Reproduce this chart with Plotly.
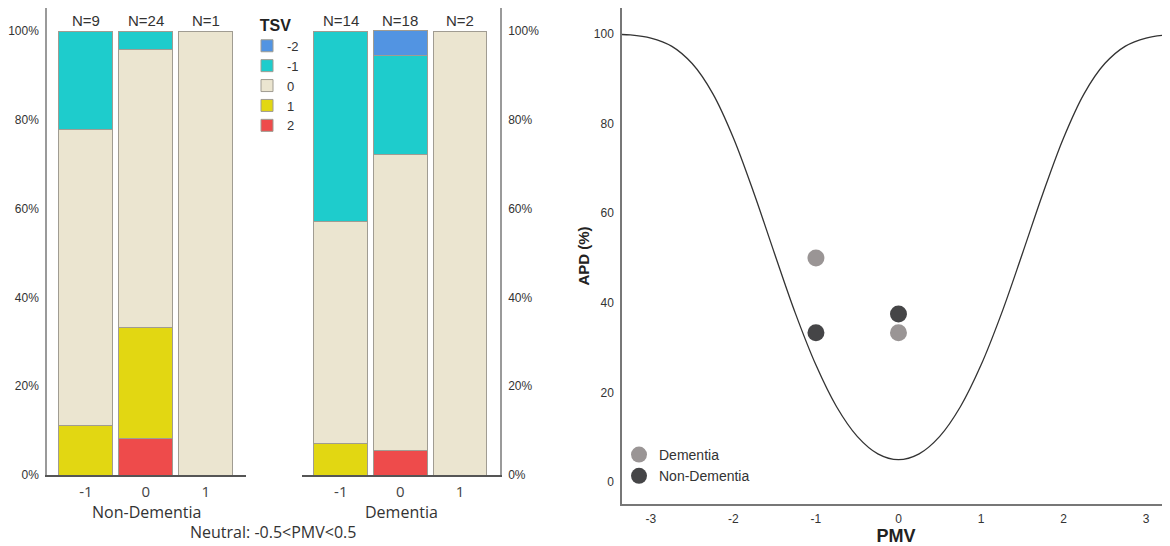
import plotly.graph_objects as go

# ---------------- data ----------------
pmv_cats = ["-1", "0", "1"]
tsv_levels = ["2", "1", "0", "-1", "-2"]  # stacking order bottom -> top
tsv_colors = {"-2": "#5294e2", "-1": "#1ecccc", "0": "#ebe5d0", "1": "#e2d712", "2": "#ee4b4b"}

# percentages of TSV votes within each PMV category
nondem_tsv = {
    "2": [None, 8.3, None],
    "1": [11.1, 25.0, None],
    "0": [66.7, 62.5, 100.0],
    "-1": [22.2, 4.2, None],
    "-2": [None, None, None],
}
dem_tsv = {
    "2": [None, 5.6, None],
    "1": [7.1, None, None],
    "0": [50.0, 66.7, 100.0],
    "-1": [42.9, 22.2, None],
    "-2": [None, 5.6, None],
}
nondem_n = [9, 24, 1]
dem_n = [14, 18, 2]

pct_ticks = [0, 20, 40, 60, 80, 100]
pct_labels = ["0%", "20%", "40%", "60%", "80%", "100%"]

# PPD-type curve
curve_pmv = [-3.4, -3.25, -3.0, -2.75, -2.5, -2.25, -2.0, -1.75, -1.5, -1.25, -1.0, -0.75, -0.5, -0.25, 0.0,
             0.25, 0.5, 0.75, 1.0, 1.25, 1.5, 1.75, 2.0, 2.25, 2.5, 2.75, 3.0, 3.25, 3.4]
curve_apd = [99.9, 99.8, 99.1, 97.3, 93.4, 86.7, 76.8, 64.4, 50.9, 37.7, 26.1, 16.8, 10.2, 6.3, 5.0,
             6.3, 10.2, 16.8, 26.1, 37.7, 50.9, 64.4, 76.8, 86.7, 93.4, 97.3, 99.1, 99.8, 99.9]

dem_pmv = [-1, 0]
dem_apd = [50.0, 33.3]
nondem_pmv = [-1, 0]
nondem_apd = [33.3, 37.5]

pmv_ticks = [-3, -2, -1, 0, 1, 2, 3]
pmv_labels = ["-3", "-2", "-1", "0", "1", "2", "3"]
apd_ticks = [0, 20, 40, 60, 80, 100]

# ---------------- figure ----------------
# the page body has an 8px margin, so the figure spans page pixels 8..1170 / 8..546
OFF = 8
W, H = 1170 - OFF, 546 - OFF
fig = go.Figure()

bar_line = dict(color="#a09c92", width=1)
for lvl in tsv_levels:
    fig.add_trace(go.Bar(x=pmv_cats, y=nondem_tsv[lvl], name=lvl, marker=dict(color=tsv_colors[lvl], line=bar_line),
                         xaxis="x", yaxis="y", legendgroup=lvl, showlegend=True, legend="legend"))
for lvl in tsv_levels:
    fig.add_trace(go.Bar(x=pmv_cats, y=dem_tsv[lvl], name=lvl, marker=dict(color=tsv_colors[lvl], line=bar_line),
                         xaxis="x2", yaxis="y2", legendgroup=lvl, showlegend=False, legend="legend"))

fig.add_trace(go.Scatter(x=curve_pmv, y=curve_apd, mode="lines", line=dict(color="#333333", width=1.3, shape="spline"),
                         xaxis="x3", yaxis="y3", showlegend=False, hoverinfo="skip"))
fig.add_trace(go.Scatter(x=dem_pmv, y=dem_apd, mode="markers", name="Dementia",
                         marker=dict(size=17, color="#9a9595"), xaxis="x3", yaxis="y3", legend="legend2"))
fig.add_trace(go.Scatter(x=nondem_pmv, y=nondem_apd, mode="markers", name="Non-Dementia",
                         marker=dict(size=17, color="#454547"), xaxis="x3", yaxis="y3", legend="legend2"))

def px_x(p):
    return min(1.0, max(0.0, (p - OFF) / W))

def px_y(p):
    return min(1.0, max(0.0, (H - (p - OFF)) / H))

arial = "Liberation Sans, Arial, sans-serif"
calib = "Open Sans, Noto Sans, sans-serif"

left_y = dict(domain=[px_y(475), px_y(8)], range=[0, 105.2], tickvals=pct_ticks, ticktext=pct_labels,
              showline=True, linecolor="#9a9a9a", linewidth=1.5, showgrid=False, zeroline=False, ticks="",
              tickfont=dict(family=arial, size=12, color="#333"), ticklabelstandoff=4, fixedrange=True,
              automargin=False)
cat_x = dict(type="category", range=[-0.65, 2.67], showline=True, linecolor="#555", linewidth=1.5,
             showgrid=False, zeroline=False, ticks="", tickfont=dict(family=calib, size=15, color="#444"),
             ticklabelstandoff=2, automargin=False)

annotations = []
for i, c in enumerate(pmv_cats):
    annotations.append(dict(x=i, y=100, xref="x", yref="y", text=f"N={nondem_n[i]}", showarrow=False,
                            yanchor="bottom", font=dict(family=arial, size=15, color="#333")))
    annotations.append(dict(x=i, y=100, xref="x2", yref="y2", text=f"N={dem_n[i]}", showarrow=False,
                            yanchor="bottom", font=dict(family=arial, size=15, color="#333")))
annotations += [
    dict(x=0.5, y=px_y(512), xref="x domain", yref="paper", text="Non-Dementia", showarrow=False,
         xanchor="center", yanchor="middle", borderpad=0, font=dict(family=calib, size=16, color="#333")),
    dict(x=0.5, y=px_y(512), xref="x2 domain", yref="paper", text="Dementia", showarrow=False,
         xanchor="center", yanchor="middle", borderpad=0, font=dict(family=calib, size=16, color="#333")),
    dict(x=px_x(273), y=px_y(532), xref="paper", yref="paper", text="Neutral: -0.5<PMV<0.5", showarrow=False,
         xanchor="center", yanchor="middle", borderpad=0, font=dict(family=calib, size=16, color="#333")),
]

fig.update_layout(
    width=W, height=H, margin=dict(l=0, r=0, t=0, b=0, autoexpand=False),
    paper_bgcolor="white", plot_bgcolor="white",
    barmode="stack", bargap=0.1,
    xaxis=dict(cat_x, domain=[px_x(47), px_x(246)], anchor="y"),
    yaxis=dict(left_y, anchor="x"),
    xaxis2=dict(cat_x, domain=[px_x(302), px_x(500)], anchor="y2"),
    yaxis2=dict(left_y, anchor="x2", side="right"),
    xaxis3=dict(domain=[px_x(622), 1.0], anchor="y3", range=[-3.35, 3.29], tickvals=pmv_ticks, ticktext=pmv_labels,
                showline=True, linecolor="#777", linewidth=1.5, showgrid=False, zeroline=False, ticks="",
                tickfont=dict(family=arial, size=12, color="#333"), ticklabelstandoff=3, automargin=False,
                title=dict(text="<b>PMV</b>", font=dict(family=arial, size=18, color="#222"), standoff=0)),
    yaxis3=dict(domain=[px_y(504), px_y(8)], anchor="x3", range=[-4.9, 105.8], tickvals=apd_ticks,
                showline=True, linecolor="#777", linewidth=1.5, showgrid=False, zeroline=False, ticks="",
                tickfont=dict(family=arial, size=12, color="#333"), ticklabelstandoff=4, automargin=False,
                title=dict(text="<b>APD (%)</b>", font=dict(family=arial, size=15, color="#222"), standoff=1)),
    legend=dict(title=dict(text="<b>TSV</b>", font=dict(family=arial, size=16, color="#222"), side="top center"),
                font=dict(family=arial, size=13, color="#333"), traceorder="reversed",
                x=px_x(247), y=px_y(10), xanchor="left", yanchor="top", bgcolor="rgba(0,0,0,0)",
                tracegroupgap=0, itemclick=False),
    legend2=dict(font=dict(family=arial, size=14, color="#333"),
                 x=px_x(619), y=px_y(492), xanchor="left", yanchor="bottom", bgcolor="rgba(0,0,0,0)",
                 itemclick=False),
    annotations=annotations,
    showlegend=True,
)

fig.write_html("out.html")
